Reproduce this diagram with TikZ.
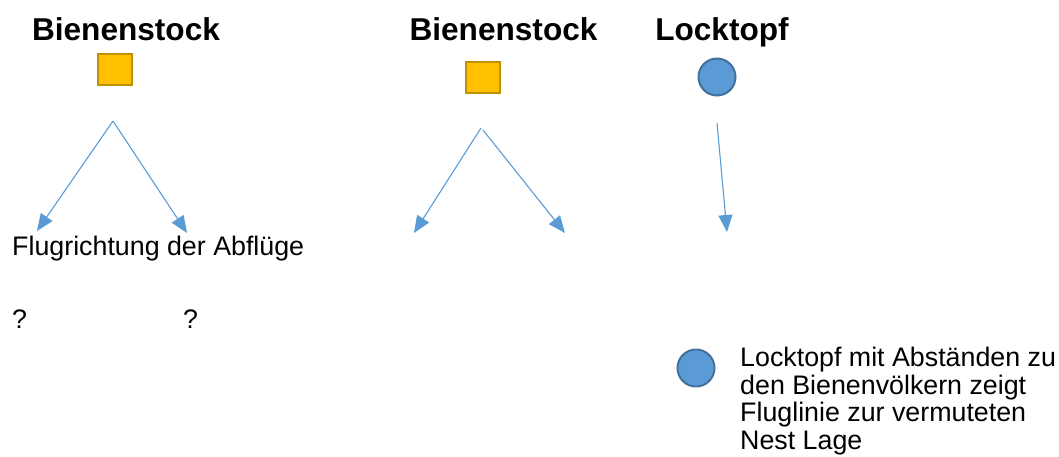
\documentclass[tikz,border=0pt]{standalone}
\usepackage{fontspec}
\setmainfont{Liberation Sans}
\usetikzlibrary{arrows.meta}
\definecolor{hivefill}{HTML}{FFC000}
\definecolor{hivedraw}{HTML}{BF9000}
\definecolor{potfill}{HTML}{5B9BD5}
\definecolor{potdraw}{HTML}{41719C}
\definecolor{arrowblue}{HTML}{5B9BD5}
\tikzset{
  titletext/.style={font=\fontsize{31.6}{36}\selectfont\bfseries, anchor=base, inner sep=0pt},
  plaintext/.style={font=\fontsize{26.8}{27.6}\selectfont, anchor=base west, inner sep=0pt},
  hive/.style={draw=hivedraw, fill=hivefill, line width=2pt, minimum width=34pt, minimum height=31pt, inner sep=0pt},
  pot/.style={circle, draw=potdraw, fill=potfill, line width=2pt, minimum size=37pt, inner sep=0pt},
  flight/.style={draw=arrowblue, line width=1.1pt, -{Triangle[length=17pt,width=14pt]}}
}
\begin{document}
\begin{tikzpicture}[x=1pt,y=-1pt]
\useasboundingbox (0,0) rectangle (1059,456);
% left group
\node[titletext] (t1) at (126,40) {Bienenstock};
\node[hive] (h1) at (114.5,69.5) {};
\coordinate (a1) at (113,121);
\coordinate (l1) at (37,231);
\coordinate (r1) at (187,233);
\draw[flight] (a1) -- (l1);
\draw[flight] (a1) -- (r1);
\node[plaintext] (fl) at (12,255) {Flugrichtung der Abflüge};
\node[plaintext] (q1) at (12,328) {?};
\node[plaintext] (q2) at (183,328) {?};
% middle group
\node[titletext] (t2) at (503.5,40) {Bienenstock};
\node[hive] (h2) at (482.5,77) {};
\coordinate (a2) at (481,128);
\coordinate (a2b) at (483,130);
\coordinate (l2) at (414,233);
\coordinate (r2) at (565,233);
\draw[flight] (a2) -- (l2);
\draw[flight] (a2b) -- (r2);
% right group
\node[titletext] (t3) at (722,40) {Locktopf};
\node[pot] (p1) at (717,77) {};
\coordinate (a3) at (717,123);
\coordinate (e3) at (727,232);
\draw[flight] (a3) -- (e3);
% legend
\node[pot] (p2) at (696,368) {};
\node[plaintext, anchor=north west, align=left] (lg) at (740,347) {Locktopf mit Abständen zu\\den Bienenvölkern zeigt\\Fluglinie zur vermuteten\\Nest Lage};
\end{tikzpicture}
\end{document}
